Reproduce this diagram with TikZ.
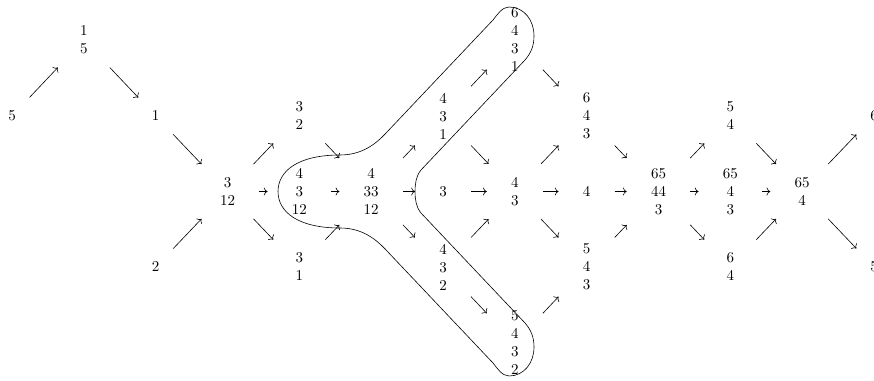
\documentclass[tikz,border=0pt]{standalone}
\usepackage{tikz}
\usetikzlibrary{arrows.meta}

\begin{document}
\begin{tikzpicture}[
    x=0.6667pt, y=-0.6667pt,
    line width=0.4pt,
    % one cell of the lattice
    cell/.style={align=center, inner xsep=16pt, inner ysep=8.7pt},
    move/.style={->}
]
    \useasboundingbox (0,0) rectangle (874,381);

    % Left part
    \node[cell] (s5) at (12, 116) {5};
    \node[cell] (s1_5) at (83.8, 40) {1\\5};
    \node[cell] (s1) at (155.7, 116) {1};
    \node[cell] (s2) at (155.7, 267) {2};
    \node[cell] (s3_12) at (227.5, 191.5) {3\\12};

    \node[cell] (s3_2) at (299.3, 116) {3\\2};
    \node[cell] (s4_3_12) at (299.3, 191.5) {4\\3\\12};
    \node[cell] (s3_1) at (299.3, 267) {3\\1};
    \node[cell] (s4_33_12) at (371.2, 191.5) {4\\33\\12};

    % Middle part
    \node[cell] (s4_3_1) at (443, 116) {4\\3\\1};
    \node[cell] (s3) at (443, 191.5) {3};
    \node[cell] (s4_3_2) at (443, 267) {4\\3\\2};

    \node[cell] (s6_4_3_1) at (514.8, 40) {6\\4\\3\\1};
    \node[cell] (s4_3) at (514.8, 191.5) {4\\3};
    \node[cell] (s5_4_3_2) at (514.8, 343) {5\\4\\3\\2};

    \node[cell] (s6_4_3) at (586.6, 116) {6\\4\\3};
    \node[cell] (s4) at (586.6, 191.5) {4};
    \node[cell] (s5_4_3) at (586.6, 267) {5\\4\\3};

    % Right part
    \node[cell] (s65_44_3) at (658.5, 191.5) {65\\44\\3};
    \node[cell] (s5_4) at (730.3, 116) {5\\4};
    \node[cell] (s65_4_3) at (730.3, 191.5) {65\\4\\3};
    \node[cell] (s6_4) at (730.3, 267) {6\\4};
    \node[cell] (s65_4) at (802.1, 191.5) {65\\4};
    \node[cell] (s6) at (874, 116) {6};
    \node[cell] (s5_end) at (874, 267) {5};

    % Moves
    \draw[move] (s5) -- (s1_5);
    \draw[move] (s1_5) -- (s1);
    \draw[move] (s1) -- (s3_12);
    \draw[move] (s2) -- (s3_12);

    \draw[move] (s3_12) -- (s3_2);
    \draw[move] (s3_12) -- (s4_3_12);
    \draw[move] (s3_12) -- (s3_1);
    \draw[move] (s3_2) -- (s4_33_12);
    \draw[move] (s4_3_12) -- (s4_33_12);
    \draw[move] (s3_1) -- (s4_33_12);

    \draw[move] (s4_33_12) -- (s4_3_1);
    \draw[move] (s4_33_12) -- (s3);
    \draw[move] (s4_33_12) -- (s4_3_2);

    \draw[move] (s4_3_1) -- (s6_4_3_1);
    \draw[move] (s4_3_1) -- (s4_3);
    \draw[move] (s3) -- (s4_3);
    \draw[move] (s4_3_2) -- (s4_3);
    \draw[move] (s4_3_2) -- (s5_4_3_2);

    \draw[move] (s6_4_3_1) -- (s6_4_3);
    \draw[move] (s4_3) -- (s6_4_3);
    \draw[move] (s4_3) -- (s4);
    \draw[move] (s4_3) -- (s5_4_3);
    \draw[move] (s5_4_3_2) -- (s5_4_3);

    \draw[move] (s6_4_3) -- (s65_44_3);
    \draw[move] (s4) -- (s65_44_3);
    \draw[move] (s5_4_3) -- (s65_44_3);

    \draw[move] (s65_44_3) -- (s5_4);
    \draw[move] (s65_44_3) -- (s65_4_3);
    \draw[move] (s65_44_3) -- (s6_4);
    \draw[move] (s5_4) -- (s65_4);
    \draw[move] (s65_4_3) -- (s65_4);
    \draw[move] (s6_4) -- (s65_4);

    \draw[move] (s65_4) -- (s6);
    \draw[move] (s65_4) -- (s5_end);

    % Outline round the two branches
    \draw (340,155) .. controls (362,155) and (376,144) .. (387,132)
        -- (493,20)
        .. controls (497,15) and (502,7) .. (509,7)
        .. controls (524,7) and (534,20) .. (534,36)
        .. controls (534,46) and (531,53) .. (525,60)
        -- (421,170)
        .. controls (416,176) and (415,184) .. (415,191.5)
        .. controls (415,199) and (416,207) .. (421,213)
        -- (525,323)
        .. controls (531,330) and (534,337) .. (534,347)
        .. controls (534,363) and (524,376) .. (509,376)
        .. controls (502,376) and (497,368) .. (493,363)
        -- (387,251)
        .. controls (376,239) and (362,228) .. (340,228)
        .. controls (298,228) and (278,212) .. (278,191.5)
        .. controls (278,171) and (298,155) .. (340,155) -- cycle;

\end{tikzpicture}
\end{document}
